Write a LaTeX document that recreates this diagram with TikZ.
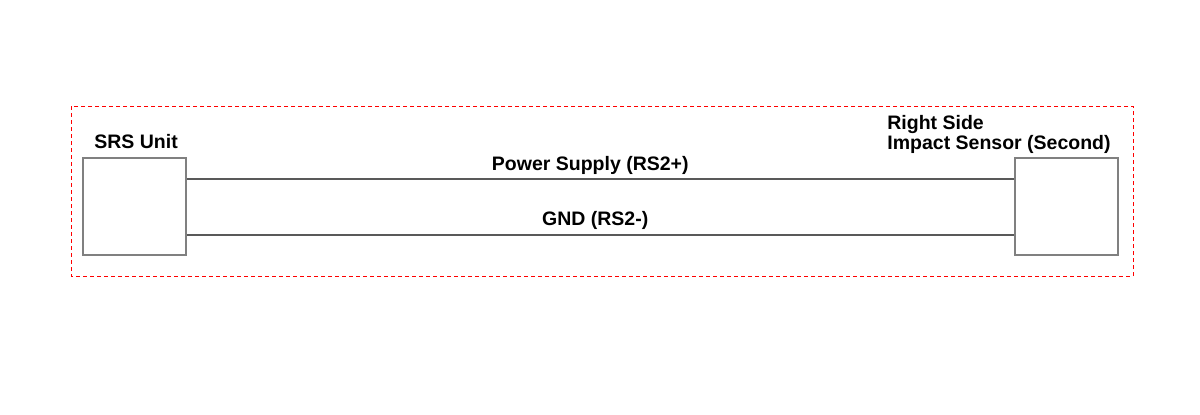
\documentclass[tikz,border=0pt]{standalone}
\usepackage{fontspec}
\setmainfont{Liberation Sans}
\usetikzlibrary{positioning,calc}

\begin{document}
\begin{tikzpicture}[x=0.5pt,y=-0.5pt,
  unitbox/.style={draw=black!50,line width=1pt,fill=white,minimum width=51.5pt,minimum height=48.5pt,inner sep=0pt},
  wire/.style={draw=black!65,line width=1.3pt},
  lbl/.style={font=\fontsize{9.75}{10}\selectfont\bfseries,inner sep=0pt,align=left}]
\useasboundingbox (0,0) rectangle (1200,414);
\draw[red,dashed,line width=0.5pt,dash pattern=on 2pt off 1.5pt] (71,106) rectangle (1133,276);
\node[unitbox] (srs) at (134.5,206.5) {};
\node[unitbox] (sensor) at (1066,206.5) {};
\node[lbl,anchor=base west] (srslbl) at (94,148) {SRS Unit};
\node[lbl,anchor=south west] (senslbl) at (887,154) {Right Side\\Impact Sensor (Second)};
\draw[wire] (srs.east |- 0,179) coordinate (p1) -- (sensor.west |- 0,179) coordinate (p2);
\draw[wire] (srs.east |- 0,235) coordinate (g1) -- (sensor.west |- 0,235) coordinate (g2);
\node[lbl,anchor=base] (pwr) at ($(p1)!0.5!(p2)+(-10,-9)$) {Power Supply (RS2+)};
\node[lbl,anchor=base] (gnd) at ($(g1)!0.5!(g2)+(-5,-10)$) {GND (RS2-)};
\end{tikzpicture}
\end{document}
